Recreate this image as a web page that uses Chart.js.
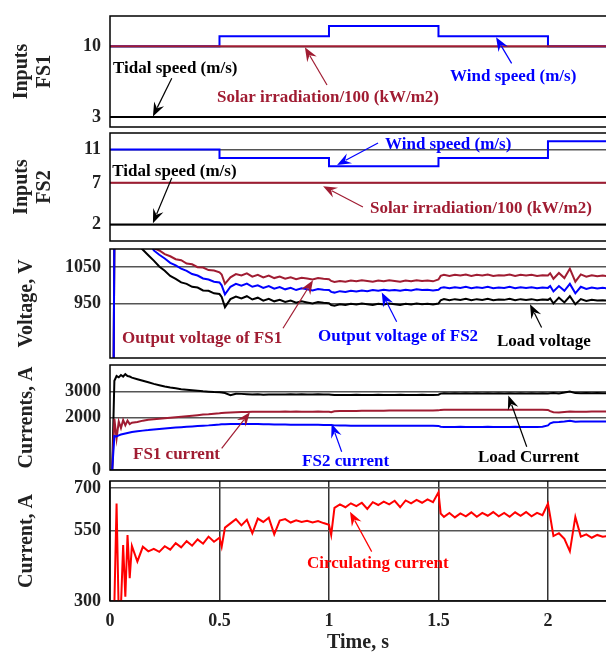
<!DOCTYPE html>
<html>
<head>
<meta charset="utf-8">
<script src="https://cdn.jsdelivr.net/npm/chart.js@4.4.1/dist/chart.umd.min.js"></script>
<style>
  html, body { margin: 0; padding: 0; background: #fff; overflow: hidden; }
  body { width: 606px; height: 655px; position: relative; }
  canvas { position: absolute; left: 0; }
</style>
</head>
<body>
<canvas id="p1" width="606" height="115" style="top:14px"></canvas>
<canvas id="p2" width="606" height="112" style="top:131px"></canvas>
<canvas id="p3" width="606" height="113" style="top:247px"></canvas>
<canvas id="p4" width="606" height="119" style="top:363px"></canvas>
<canvas id="p5" width="606" height="176" style="top:479px"></canvas>
<script>
const FONT = "'Liberation Serif', 'Times New Roman', serif";
const DARK_RED = '#a01c32';
const BLUE = '#0000ff';
const RED = '#ff0000';

// time axis
const xMax = 2.265;
const xTicks = [0, 0.5, 1, 1.5, 2];

// inputs (step profiles)
const tStep = [0, 0.5, 1, 1.5, 2, 2.27];
const windFS1 = [10, 11, 12, 11, 10, 10];
const solarFS1 = [10, 10, 10, 10, 10, 10];
const tidalFS1 = [3, 3, 3, 3, 3, 3];
const windFS2 = [11, 10, 9, 10, 12, 12];
const solarFS2 = [7, 7, 7, 7, 7, 7];
const tidalFS2 = [2, 2, 2, 2, 2, 2];

// sample times of the measured signals
const t = [
  0, 0.01, 0.02, 0.03, 0.04, 0.05, 0.06, 0.07, 0.08, 0.09, 0.1,
  0.125, 0.15, 0.175, 0.2, 0.225, 0.25, 0.275, 0.3, 0.325, 0.35, 0.375, 0.4, 0.425, 0.45, 0.475, 0.5,
  0.51,
  0.525, 0.55, 0.575, 0.6, 0.625, 0.65, 0.675, 0.7, 0.725, 0.75, 0.775, 0.8, 0.825, 0.85, 0.875, 0.9, 0.925, 0.95, 0.975, 1.0,
  1.01,
  1.025, 1.05, 1.075, 1.1, 1.125, 1.15, 1.175, 1.2, 1.225, 1.25, 1.275, 1.3, 1.325, 1.35, 1.375, 1.4, 1.425, 1.45, 1.475, 1.5,
  1.51,
  1.525, 1.55, 1.575, 1.6, 1.625, 1.65, 1.675, 1.7, 1.725, 1.75, 1.775, 1.8, 1.825, 1.85, 1.875, 1.9, 1.925, 1.95, 1.975, 2.0,
  2.01,
  2.025, 2.05, 2.075, 2.1, 2.125, 2.15, 2.175, 2.2, 2.225, 2.25,
  2.27
];

// voltages (V)
const vFS1 = [
  0, 0, 1150, 1160, 1160, 1160, 1160, 1160, 1160, 1160, 1160,
  1160, 1150, 1120, 1102, 1096, 1086, 1080, 1072, 1069, 1060, 1058, 1050, 1049, 1042, 1041, 1036,
  1030,
  1004, 1022, 1031, 1027, 1033, 1024, 1029, 1022, 1027, 1020, 1024, 1018, 1022, 1017, 1021, 1019, 1016, 1020, 1018, 1017,
  1012,
  1009, 1012, 1010, 1013, 1011, 1014, 1012, 1010, 1013, 1011, 1014, 1012, 1010, 1013, 1011, 1014, 1012, 1013, 1011, 1016,
  1026,
  1029, 1026, 1029, 1027, 1030, 1026, 1029, 1027, 1030, 1026, 1028, 1027, 1030, 1026, 1029, 1027, 1029, 1026, 1028, 1027,
  1033,
  1018, 1034, 1020, 1046, 1010, 1030, 1024, 1028, 1025, 1027,
  1025
];
const vFS2 = [
  0, 0, 1150, 1160, 1160, 1160, 1160, 1160, 1160, 1160, 1160,
  1160, 1150, 1125, 1096, 1084, 1074, 1062, 1055, 1046, 1040, 1031, 1027, 1019, 1016, 1010, 1008,
  1000,
  975, 996, 1004, 999, 1005, 996, 1000, 993, 998, 991, 995, 989, 993, 987, 992, 989, 986, 990, 988, 987,
  982,
  980, 984, 982, 985, 983, 986, 984, 987, 985, 988, 986, 987, 985, 988, 986, 989, 987, 988, 986, 988,
  993,
  995, 992, 995, 993, 996, 992, 995, 993, 996, 992, 994, 993, 996, 992, 995, 993, 995, 992, 994, 993,
  998,
  983, 998, 985, 1004, 978, 996, 990, 994, 991, 993,
  992
];
const vLoad = [
  0, 0, 1150, 1160, 1160, 1160, 1160, 1160, 1160, 1160, 1160,
  1112, 1098, 1083, 1068, 1052, 1040, 1026, 1018, 1008, 1004, 996, 994, 986, 985, 978, 976,
  968,
  940, 962, 969, 964, 970, 961, 966, 958, 963, 956, 960, 954, 958, 952, 956, 953, 950, 954, 952, 951,
  946,
  944, 948, 946, 949, 947, 950, 948, 946, 949, 947, 950, 948, 946, 949, 947, 950, 948, 949, 947, 950,
  959,
  962, 959, 962, 960, 963, 959, 962, 960, 963, 959, 961, 960, 963, 959, 962, 960, 962, 959, 961, 960,
  964,
  950, 966, 953, 970, 948, 962, 957, 960, 958, 959,
  958
];

// currents (A)
const iLoad = [
  0, 0, 3400, 3580, 3530, 3620, 3560, 3650, 3580, 3560, 3520,
  3460, 3400, 3340, 3280, 3230, 3180, 3140, 3110, 3080, 3060, 3040, 3020, 3000, 2985, 2970, 2960,
  2950,
  2930, 2850, 2905, 2900, 2890, 2880, 2882, 2870, 2880, 2872, 2880, 2875, 2885, 2878, 2885, 2880, 2875, 2885, 2880, 2875,
  2870,
  2860, 2855, 2860, 2858, 2862, 2856, 2860, 2858, 2862, 2857, 2860, 2858, 2862, 2857, 2860, 2858, 2862, 2858, 2860, 2870,
  2910,
  2920, 2915, 2920, 2918, 2922, 2915, 2920, 2918, 2922, 2915, 2920, 2918, 2922, 2916, 2920, 2918, 2922, 2915, 2920, 2918,
  2925,
  2935, 2915, 2950, 2990, 2930, 2925, 2935, 2920, 2930, 2925,
  2925
];
const iFS1 = [
  0, 0, 1950, 1200, 1850, 1600, 1900, 1700, 1880, 1750, 1800,
  1830, 1880, 1910, 1930, 1950, 1970, 1990, 2010, 2030, 2050, 2070, 2090, 2110, 2120, 2140, 2160,
  2170,
  2180, 2190, 2200, 2205, 2210, 2215, 2215, 2220, 2220, 2222, 2220, 2225, 2220, 2224, 2220, 2222, 2220, 2224, 2220, 2215,
  2200,
  2240, 2245, 2248, 2250, 2252, 2255, 2256, 2258, 2260, 2260, 2262, 2262, 2264, 2265, 2266, 2266, 2268, 2268, 2270, 2272,
  2290,
  2295, 2295, 2296, 2295, 2296, 2295, 2296, 2295, 2296, 2295, 2296, 2295, 2296, 2295, 2296, 2295, 2296, 2295, 2294, 2290,
  2240,
  2200, 2190, 2210, 2230, 2215, 2220, 2222, 2224, 2225, 2226,
  2226
];
const iFS2 = [
  0, 0, 1300, 1280, 1320, 1350, 1370, 1390, 1410, 1430, 1450,
  1480, 1500, 1520, 1545, 1565, 1585, 1600, 1615, 1630, 1645, 1660, 1675, 1690, 1700, 1715, 1730,
  1740,
  1745, 1750, 1752, 1754, 1755, 1750, 1748, 1745, 1740, 1735, 1732, 1730, 1728, 1725, 1725, 1722, 1720, 1720, 1718, 1716,
  1714,
  1700, 1695, 1692, 1690, 1690, 1688, 1690, 1688, 1690, 1688, 1690, 1688, 1690, 1688, 1690, 1688, 1690, 1688, 1690, 1680,
  1650,
  1640, 1642, 1640, 1643, 1641, 1640, 1642, 1640, 1643, 1641, 1640, 1642, 1640, 1643, 1641, 1640, 1642, 1640, 1645, 1700,
  1780,
  1820, 1830, 1850, 1880, 1840, 1845, 1848, 1850, 1850, 1852,
  1852
];
const iCirc = [
  0, 0, 290, 645, 250, 280, 498, 315, 534, 381, 495,
  440, 492, 476, 485, 474, 494, 482, 505, 490, 512, 496, 518, 503, 528, 510, 524,
  492,
  560, 575, 590, 568, 588, 540, 592, 580, 595, 536, 585, 590, 578, 586, 580, 584, 578, 583, 576, 570,
  534,
  630, 642, 632, 646, 636, 648, 626, 650, 640, 652, 642, 655, 632, 656, 646, 658, 648, 660, 650, 685,
  610,
  598, 612, 596, 610, 600, 614, 598, 612, 602, 615, 600, 612, 598, 614, 602, 615, 600, 612, 604, 645,
  600,
  530, 540, 520, 476, 598, 528, 536, 524, 534, 528,
  530
];

// y ticks of each panel
const yTicks1 = [10, 3];
const yTicks2 = [11, 7, 2];
const yTicks3 = [1050, 950];
const yTicks4 = [3000, 2000, 0];
const yTicks5 = [700, 550, 300];

function pts(xs, ys) {
  return xs.map((x, i) => ({ x: x, y: ys[i] }));
}

function line(label, xs, ys, color, stepped) {
  return {
    label: label,
    data: pts(xs, ys),
    borderColor: color,
    borderWidth: 2,
    pointRadius: 0,
    stepped: stepped || false,
    tension: 0
  };
}

function arrow(ctx, x0, y0, x1, y1) {
  const a = Math.atan2(y1 - y0, x1 - x0);
  const c = Math.cos(a), s = Math.sin(a);
  const L = 14, W = 5.5;
  ctx.lineWidth = 1.2;
  ctx.beginPath();
  ctx.moveTo(x0, y0);
  ctx.lineTo(x1 - L * 0.7 * c, y1 - L * 0.7 * s);
  ctx.stroke();
  ctx.beginPath();
  ctx.moveTo(x1, y1);
  ctx.lineTo(x1 - L * c + W * s, y1 - L * s - W * c);
  ctx.lineTo(x1 - L * 0.65 * c, y1 - L * 0.65 * s);
  ctx.lineTo(x1 - L * c - W * s, y1 - L * s + W * c);
  ctx.closePath();
  ctx.fill();
}

// frame + text labels with arrows, placed in data units
function framePlugin(notes) {
  return {
    id: 'frame',
    afterDatasetsDraw(chart) {
      const ctx = chart.ctx, a = chart.chartArea;
      const xs = chart.scales.x, ys = chart.scales.y;
      ctx.save();
      ctx.strokeStyle = '#000';
      ctx.lineWidth = 1.5;
      ctx.beginPath();
      ctx.moveTo(a.right + 2, a.top);
      ctx.lineTo(a.left, a.top);
      ctx.lineTo(a.left, a.bottom);
      ctx.lineTo(a.right + 2, a.bottom);
      ctx.stroke();
      ctx.font = 'bold 17px ' + FONT;
      ctx.textBaseline = 'middle';
      ctx.textAlign = 'left';
      notes.forEach(n => {
        ctx.fillStyle = n.color;
        ctx.strokeStyle = n.color;
        ctx.fillText(n.text, xs.getPixelForValue(n.at[0]), ys.getPixelForValue(n.at[1]));
        arrow(ctx,
          xs.getPixelForValue(n.from[0]), ys.getPixelForValue(n.from[1]),
          xs.getPixelForValue(n.to[0]), ys.getPixelForValue(n.to[1]));
      });
      ctx.restore();
    }
  };
}

function yAxis(min, max, ticks, title, titlePad) {
  return {
    min: min,
    max: max,
    afterBuildTicks: s => { s.ticks = ticks.map(v => ({ value: v })); },
    afterFit: s => { s.width = 110; s.paddingTop = 0; s.paddingBottom = 0; },
    ticks: {
      callback: v => String(v),
      font: { family: FONT, size: 18, weight: 'bold' },
      color: '#222',
      padding: 9
    },
    grid: { color: '#555', lineWidth: 1.5, drawTicks: false },
    border: { display: false },
    title: {
      display: true,
      text: title,
      color: '#222',
      font: { family: FONT, size: 20, weight: 'bold', lineHeight: 1.15 },
      padding: { top: titlePad, bottom: 0 }
    }
  };
}

function panel(id, datasets, y, notes, showX, padBottom) {
  const x = showX ? {
    type: 'linear', min: 0, max: xMax,
    afterBuildTicks: s => { s.ticks = xTicks.map(v => ({ value: v })); },
    afterFit: s => { s.height = 54; s.paddingLeft = 0; s.paddingRight = 0; },
    ticks: {
      callback: v => String(v),
      font: { family: FONT, size: 18, weight: 'bold' },
      color: '#222',
      padding: 10,
      maxRotation: 0
    },
    grid: { color: '#333', lineWidth: 1.5, drawTicks: false },
    border: { display: false },
    title: {
      display: true,
      text: 'Time, s',
      color: '#222',
      font: { family: FONT, size: 20, weight: 'bold', lineHeight: 1.15 },
      padding: { top: 0, bottom: 0.5 }
    }
  } : { type: 'linear', min: 0, max: xMax, display: false };

  return new Chart(document.getElementById(id), {
    type: 'line',
    data: { datasets: datasets },
    options: {
      responsive: false,
      animation: false,
      devicePixelRatio: 1,
      layout: { padding: { top: 2, bottom: showX ? 0 : (padBottom || 2), left: 0, right: 0 } },
      plugins: { legend: { display: false }, tooltip: { enabled: false } },
      scales: { x: x, y: y }
    },
    plugins: [framePlugin(notes)]
  });
}

panel('p1', [
  line('Solar irradiation/100', [0, 2.27], [solarFS1[0], solarFS1[5]], DARK_RED),
  line('Wind speed', tStep, windFS1, BLUE, true),
  line('Tidal speed', [0, 2.27], [tidalFS1[0], tidalFS1[5]], '#000')
], yAxis(2, 13, yTicks1, ['Inputs', 'FS1'], 10.5), [
  { text: 'Tidal speed (m/s)', color: '#000', at: [0.014, 7.75], from: [0.282, 6.83], to: [0.196, 3.05] },
  { text: 'Solar irradiation/100 (kW/m2)', color: DARK_RED, at: [0.489, 4.87], from: [0.991, 6.16], to: [0.89, 9.9] },
  { text: 'Wind speed (m/s)', color: BLUE, at: [1.553, 6.95], from: [1.834, 8.31], to: [1.763, 10.9] }
]);

panel('p2', [
  line('Wind speed', tStep, windFS2, BLUE, true),
  line('Solar irradiation/100', tStep, solarFS2, DARK_RED),
  line('Tidal speed', tStep, tidalFS2, '#000')
], yAxis(0, 13, yTicks2, ['Inputs', 'FS2'], 10.5), [
  { text: 'Wind speed (m/s)', color: BLUE, at: [1.256, 11.56], from: [1.224, 11.8], to: [1.037, 9.15] },
  { text: 'Solar irradiation/100 (kW/m2)', color: DARK_RED, at: [1.187, 3.85], from: [1.155, 4.1], to: [0.973, 6.6] },
  { text: 'Tidal speed (m/s)', color: '#000', at: [0.01, 8.3], from: [0.282, 7.58], to: [0.196, 2.15] }
]);

panel('p3', [
  line('Output voltage of FS2', t, vFS2, BLUE),
  line('Output voltage of FS1', t, vFS1, DARK_RED),
  line('Load voltage', t, vLoad, '#000')
], yAxis(800, 1100, yTicks3, 'Voltage, V', 15.5), [
  { text: 'Output voltage of FS1', color: DARK_RED, at: [0.055, 852], from: [0.79, 882], to: [0.927, 1014] },
  { text: 'Output voltage of FS2', color: BLUE, at: [0.95, 858], from: [1.309, 900], to: [1.241, 980] },
  { text: 'Load voltage', color: '#000', at: [1.767, 844], from: [1.971, 884], to: [1.918, 948] }
]);

panel('p4', [
  line('FS2 current', t, iFS2, BLUE),
  line('FS1 current', t, iFS1, DARK_RED),
  line('Load Current', t, iLoad, '#000')
], yAxis(0, 4000, yTicks4, 'Currents, A', 15.5), [
  { text: 'FS1 current', color: DARK_RED, at: [0.105, 571], from: [0.51, 827], to: [0.639, 2200] },
  { text: 'FS2 current', color: BLUE, at: [0.877, 305], from: [1.058, 697], to: [1.012, 1760] },
  { text: 'Load Current', color: '#000', at: [1.68, 457], from: [1.903, 888], to: [1.819, 2840] }
], false, 12);

panel('p5', [
  line('Circulating current', t, iCirc, RED)
], yAxis(300, 725, yTicks5, 'Current, A', 15.5), [
  { text: 'Circulating current', color: RED, at: [0.9, 431], from: [1.195, 475], to: [1.096, 616] }
], true);
</script>
</body>
</html>
